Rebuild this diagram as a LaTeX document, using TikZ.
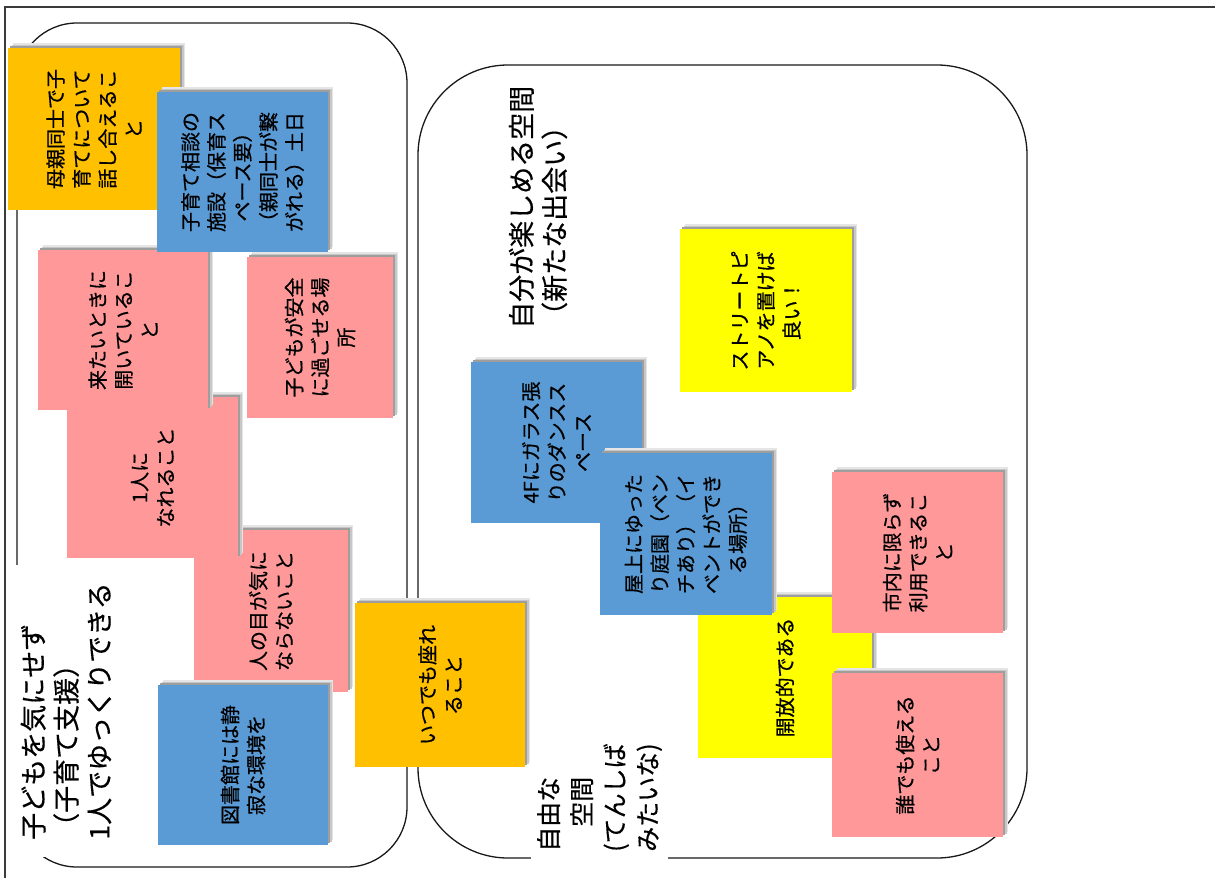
\documentclass[tikz,border=0pt]{standalone}
\usepackage{fontspec}
\newfontfamily\jp[FakeBold=0.6]{Noto Sans CJK JP}
\newfontfamily\jpt[FakeBold=0.4]{Noto Sans CJK JP}
\definecolor{orangeN}{HTML}{FFC000}
\definecolor{blueN}{HTML}{5B9BD5}
\definecolor{pinkN}{HTML}{FF9999}
\definecolor{yellowN}{HTML}{FFFF00}
\definecolor{frameC}{HTML}{3A3A3A}
\newcommand{\snote}[7]{%
  \fill[shA] (#2+5,#3-5) rectangle (#4+5,#5-5);
  \fill[shB] (#2+3.5,#3-3.5) rectangle (#4+3.5,#5-3.5);
  \fill[shC] (#2+2,#3-2) rectangle (#4+2,#5-2);
  \node[notebox, fill=#6, minimum width={#5-#3}, minimum height={#4-#2}] (#1) at ({(#2+#4)/2},{(#3+#5)/2}) {#7};
}
\begin{document}
\begin{tikzpicture}[x=1pt,y=-1pt,
  notebox/.style={rectangle, inner sep=0pt, rotate=90, align=center, text=black,
    font=\jp\fontsize{20pt}{26pt}\selectfont},
  shA/.style={fill=black!10},
  shB/.style={fill=black!22},
  shC/.style={fill=black!38},
  grp/.style={draw=black!90, line width=1.3pt},
  frameline/.style={draw=frameC, line width=1.6pt},
  bigtitle/.style={rotate=90, align=left, text=black, anchor=west,
    font=\jpt\fontsize{27pt}{33pt}\selectfont},
]
\useasboundingbox (0,0) rectangle (1215,878);
\fill[white] (0,0) rectangle (1215,878);
% outer frame
\draw[frameline] (5,878) -- (5,7) -- (1215,7);
% groups
\draw[grp, rounded corners=60pt] (17,23) rectangle (407,867);
\draw[grp, rounded corners=90pt] (418,65) rectangle (1027,858);
% sticky notes
\snote{n1}{8}{48}{180}{210}{orangeN}{母親同士で子\\育てについて\\話し合えるこ\\と}
\snote{n6}{194}{530}{348}{692}{pinkN}{人の目が気に\\ならないこと}
\snote{n5}{67}{397}{238}{558}{pinkN}{1人に\\なれること}
\snote{n3}{38}{250}{208}{410}{pinkN}{来たいときに\\開いているこ\\と}
\snote{n2}{157}{92}{328}{252}{blueN}{子育て相談の\\施設（保育ス\\ペース要）\\（親同士が繋\\がれる）土日}
\snote{n4}{247}{257}{393}{418}{pinkN}{子どもが安全\\に過ごせる場\\所}
\snote{n7}{158}{685}{328}{845}{blueN}{図書館には静\\寂な環境を}
\snote{n8}{355}{603}{525}{767}{orangeN}{いつでも座れ\\ること}
\snote{n9}{680}{229}{852}{392}{yellowN}{ストリートピ\\アノを置けば\\良い！}
\snote{n10}{471}{362}{642}{523}{blueN}{4Fにガラス張\\りのダンスス\\ペース}
\snote{n12}{698}{597}{872}{758}{yellowN}{開放的である}
\snote{n11}{600}{453}{772}{615}{blueN}{屋上にゆった\\り庭園（ベン\\チあり）（イ\\ベントができ\\る場所）}
\snote{n13}{832}{472}{1003}{633}{pinkN}{市内に限らず\\利用できるこ\\と}
\snote{n14}{832}{673}{1003}{837}{pinkN}{誰でも使える\\こと}
% titles
\node[bigtitle, inner sep=0pt] (t2) at (538,329) {自分が楽しめる空間\\（新たな出会い）};
\node[bigtitle, fill=white, inner xsep=17pt, inner ysep=8pt] (t1) at (66,857) {子どもを気にせず\\（子育て支援）\\1人でゆっくりできる};
\node[bigtitle, fill=white, inner xsep=8pt, inner ysep=6pt, font=\jpt\fontsize{25pt}{33pt}\selectfont] (t3) at (599.5,860) {自由な\\　空間\\(てんしば\\みたいな)};
\end{tikzpicture}
\end{document}
